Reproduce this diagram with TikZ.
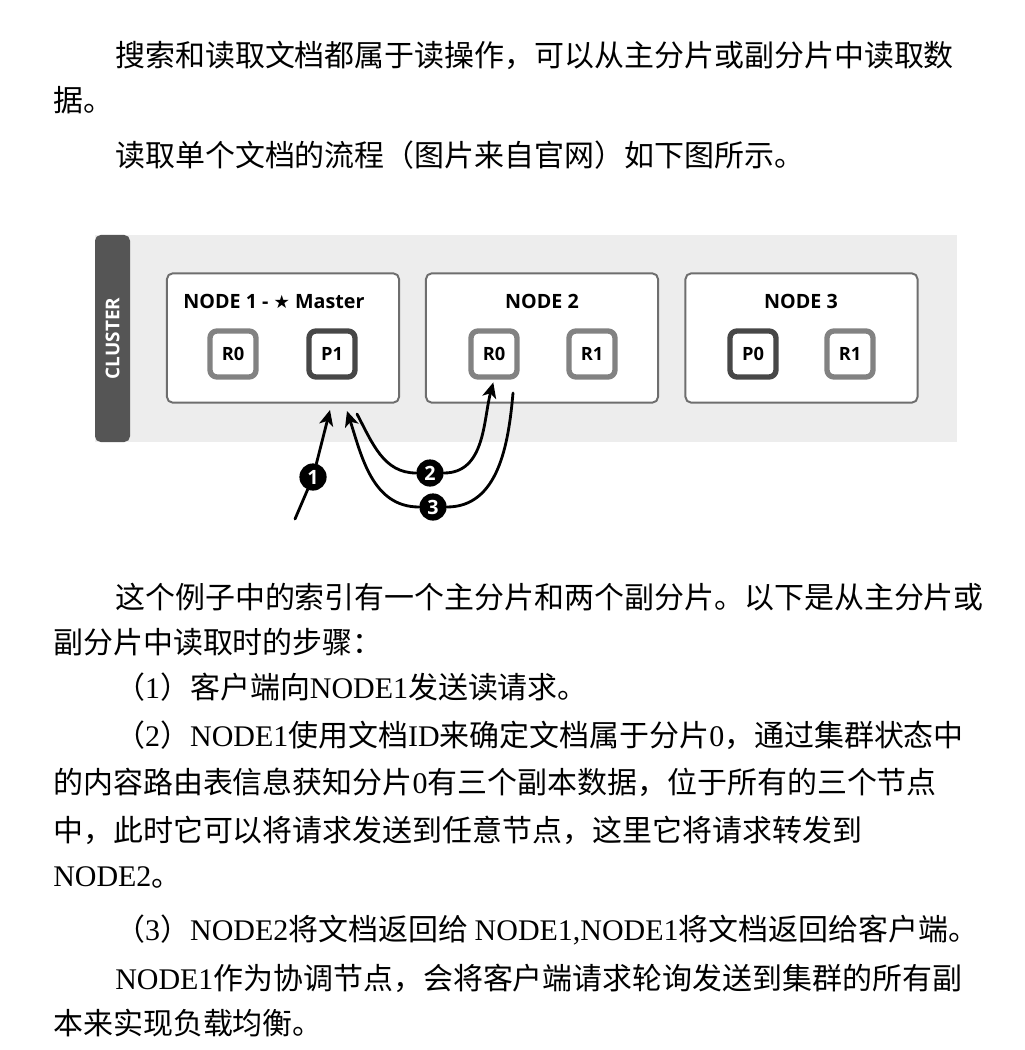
\documentclass[tikz,border=0pt]{standalone}
\usepackage{fontspec}
\setmainfont{Liberation Serif}
\newfontfamily\cjk{Noto Sans CJK SC}
\newfontfamily\diagfont{Open Sans}
\newfontfamily\symfont{DejaVu Sans}
\usepackage{tikz}
\usetikzlibrary{arrows.meta}
\usetikzlibrary{positioning}

\definecolor{clusterbg}{HTML}{EDEDED}
\definecolor{tabgray}{HTML}{555555}
\definecolor{hostline}{HTML}{6E6E6E}
\definecolor{replicagray}{HTML}{828282}
\definecolor{primarygray}{HTML}{474747}

\newcommand{\lat}[1]{{\rmfamily #1}}

\tikzset{
  para/.style={anchor=west,inner sep=0pt,font=\cjk\fontsize{21.3}{25}\selectfont},
  hostbox/.style={draw=hostline,line width=1.4pt,fill=white,rounded corners=4pt,
    minimum width=5.8cm,minimum height=3.23cm},
  hosttitle/.style={inner sep=0pt,font=\diagfont\bfseries\fontsize{14}{16}\selectfont},
  shard/.style={fill=white,line width=3.8pt,rounded corners=5pt,minimum size=1.15cm,
    inner sep=0pt,font=\diagfont\bfseries\fontsize{13}{15}\selectfont},
  replica/.style={shard,draw=replicagray},
  primary/.style={shard,draw=primarygray},
  stepdot/.style={circle,fill=black,inner sep=0pt,minimum size=0.68cm,text=white,
    font=\diagfont\bfseries\fontsize{14}{16}\selectfont},
  flow/.style={line width=2pt,-{Stealth[length=11pt,width=10pt,inset=3pt]}}
}

\begin{document}
\begin{tikzpicture}[line cap=round,line join=round,x=0.025cm,y=-0.025cm]
\useasboundingbox (0,0) rectangle (1024,1050);
\fill[white] (0,0) rectangle (1024,1050);

% text above the figure
\node[para] (t1) at (115,55) {搜索和读取文档都属于读操作，可以从主分片或副分片中读取数};
\node[para] (t2) at (53,100) {据。};
\node[para] (t3) at (115,155) {读取单个文档的流程（图片来自官网）如下图所示。};

% cluster
\fill[clusterbg] (95,235) rectangle (957,442);
\fill[tabgray,rounded corners=4pt] (95,235) rectangle (130,442);
\node[rotate=90,text=white,font=\diagfont\bfseries\fontsize{13.5}{15}\selectfont] (cluster) at (112.5,338.5) {CLUSTER};

\node[hostbox] (node1) at (283,338) {};
\node[hostbox] (node2) at (542,338) {};
\node[hostbox] (node3) at (801.5,338) {};
\node[hosttitle] (title1) at (274,301) {NODE 1 - {\symfont\fontsize{13}{15}\selectfont ★} Master};
\node[hosttitle] (title2) at (542,301) {NODE 2};
\node[hosttitle] (title3) at (801,301) {NODE 3};

\node[replica] (n1r0) at (233,354) {R0};
\node[primary] (n1p1) at (332,354) {P1};
\node[replica] (n2r0) at (494,354) {R0};
\node[replica] (n2r1) at (592,354) {R1};
\node[primary] (n3p0) at (753,354) {P0};
\node[replica] (n3r1) at (850,354) {R1};

% request steps
\coordinate (client) at (295,519);
\coordinate (in1) at (330,410);
\coordinate (out2) at (357,414);
\coordinate (out3) at (513,393);
\coordinate (in3) at (347,411);
\node[stepdot] (s1) at (313,477) {1};
\node[stepdot] (s2) at (430,473) {2};
\node[stepdot] (s3) at (433,507) {3};
\draw[flow] (client) -- (s1) -- (in1);
\draw[flow,shorten >=2pt] (out2) to[out=-62,in=180] (s2) to[out=0,in=-105] (n2r0.south);
\draw[flow] (out3) to[out=-95,in=0] (s3) to[out=180,in=-72] (in3);

% text below the figure
\node[para] (t4) at (115,597) {这个例子中的索引有一个主分片和两个副分片。以下是从主分片或};
\node[para] (t5) at (53,642) {副分片中读取时的步骤：};
\node[para] (t6) at (115,687) {（\lat{1}）客户端向\lat{NODE1}发送读请求。};
\node[para] (t7) at (115,735) {（\lat{2}）\lat{NODE1}使用文档\lat{ID}来确定文档属于分片\lat{0}，通过集群状态中};
\node[para] (t8) at (53,782) {的内容路由表信息获知分片\lat{0}有三个副本数据，位于所有的三个节点};
\node[para] (t9) at (53,830) {中，此时它可以将请求发送到任意节点，这里它将请求转发到};
\node[para] (t10) at (53,877) {\lat{NODE2}。};
\node[para] (t11) at (115,930) {（\lat{3}）\lat{NODE2}将文档返回给 \lat{NODE1,NODE1}将文档返回给客户端。};
\node[para] (t12) at (115,978) {\lat{NODE1}作为协调节点，会将客户端请求轮询发送到集群的所有副};
\node[para] (t13) at (53,1023) {本来实现负载均衡。};
\end{tikzpicture}
\end{document}
